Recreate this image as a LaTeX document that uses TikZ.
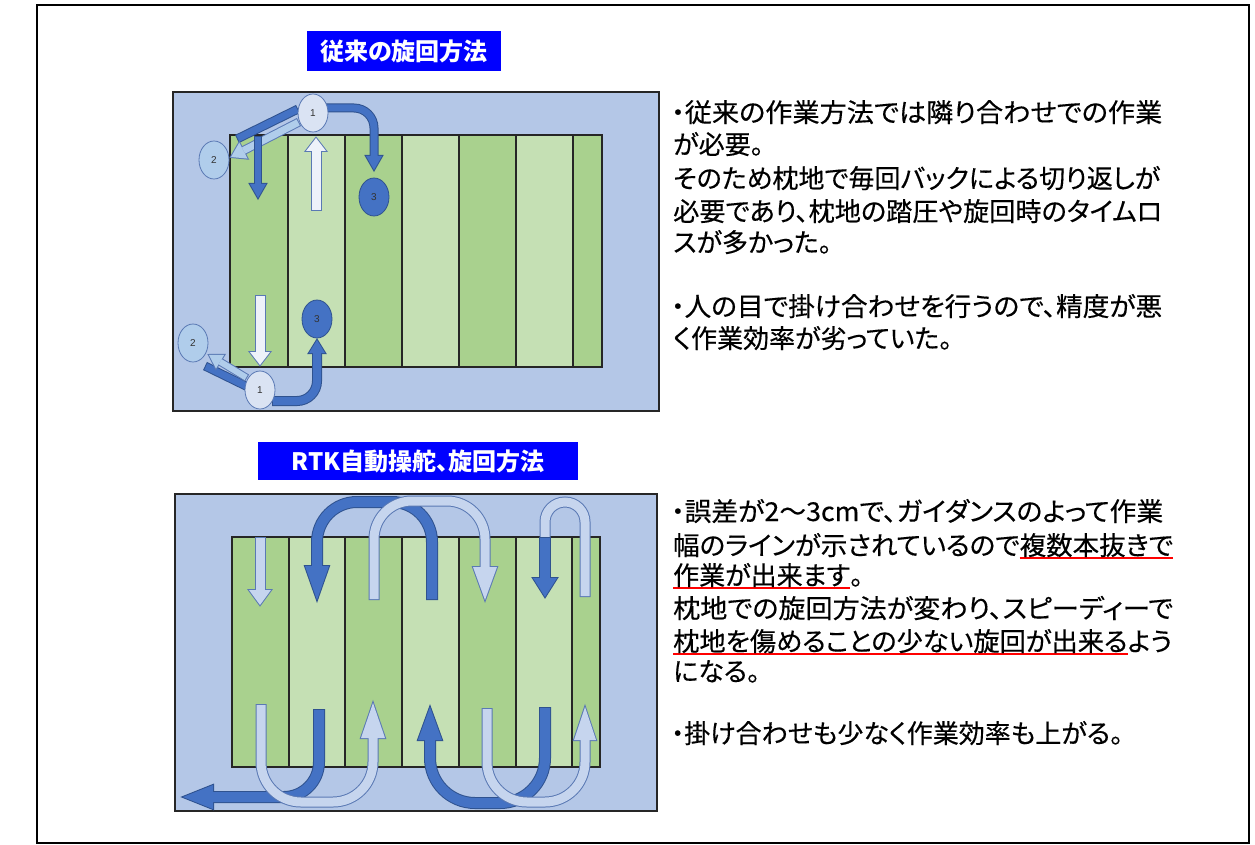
\documentclass[tikz,border=0pt]{standalone}
\usepackage{fontspec}
\usetikzlibrary{calc,shapes.geometric}
\setsansfont{Liberation Sans}
\newfontfamily\jp{Noto Sans CJK JP}[RawFeature=+palt]
\newfontfamily\jpt{Noto Sans CJK JP}[RawFeature=+palt,FakeBold=0.35]
\definecolor{bgb}{HTML}{B4C7E7}
\definecolor{dg}{HTML}{A9D18E}
\definecolor{lg}{HTML}{C5E0B4}
\definecolor{db}{HTML}{4472C4}
\definecolor{dbo}{HTML}{2F528F}
\definecolor{lbf}{HTML}{C6D5EE}
\definecolor{lbo}{HTML}{5A79B4}
\definecolor{wf}{HTML}{EEF2FA}
\definecolor{cone}{HTML}{DAE3F3}
\definecolor{ctwo}{HTML}{B0CDEB}
\definecolor{ttl}{HTML}{0000FF}
\def\bo{1}
\newcommand{\barrow}[7]{%
  \coordinate (bB) at #5; \coordinate (bT) at #6;
  \coordinate (bL) at ($(bB)!#7pt!90:(bT)$);
  \coordinate (bR) at ($(bB)!#7pt!-90:(bT)$);
  \pgfmathsetmacro\bw{#3+2*\bo}
  \pgfmathsetmacro\bt{2*\bo}
  \draw[line width=\bw pt, draw=#2] #4;
  \filldraw[line width=\bt pt, draw=#2, fill=#2] (bL)--(bT)--(bR)--cycle;
  \draw[line width=#3pt, draw=#1, shorten <=\bo pt] #4;
  \fill[fill=#1] (bL)--(bT)--(bR)--cycle;
}
\newcommand{\bband}[4]{%
  \pgfmathsetmacro\bw{#3+2*\bo}
  \draw[line width=\bw pt, draw=#2] #4;
  \draw[line width=#3pt, draw=#1, shorten <=\bo pt, shorten >=\bo pt] #4;
}
\newsavebox\rulbox
\newcommand{\rul}[1]{\sbox\rulbox{#1}\rlap{\textcolor{red}{\rule[-4pt]{\wd\rulbox}{2pt}}}\usebox\rulbox}
\newcommand{\fitw}[2]{\resizebox{#1}{\height}{#2}}
\begin{document}
\begin{tikzpicture}[x=1pt,y=-1pt,
  ttlbox/.style={fill=ttl, inner sep=0, text=white, font=\jp\bfseries\fontsize{24}{24}\selectfont},
  jtext/.style={anchor=base west, inner sep=0, font=\jpt\fontsize{26}{26}\selectfont},
  circbase/.style={ellipse, minimum width=30pt, minimum height=38pt, inner sep=0, line width=0.8pt, font=\sffamily\fontsize{10}{10}\selectfont, text=black!80},
  cA/.style={circbase, draw=lbo, fill=cone},
  cB/.style={circbase, draw=lbo, fill=ctwo},
  cC/.style={circbase, draw=dbo, fill=db},
  outerbox/.style={fill=bgb, draw=black!85, line width=1.6pt},
  strip/.style={draw=black!85, line width=1.1pt}]
\useasboundingbox (0,0) rectangle (1255,845);
\draw[line width=1.2pt] (37,5) rectangle (1249,843);

% ---------- top diagram ----------
\node[ttlbox, minimum width=194pt, minimum height=40pt] (title1) at (404,51) {従来の旋回方法};
\draw[outerbox] (173,92) rectangle (659,411);
\foreach \a/\b/\c in {230/288/dg, 288/345/lg, 345/402/dg, 402/459/lg, 459/516/dg, 516/573/lg, 573/602/dg}
  \draw[strip, fill=\c] (\a,135) rectangle (\b,367);

\bband{db}{dbo}{7}{(298,109) -- (237,139)}
\barrow{ctwo}{lbo}{7}{(299,122) -- (243.4,150.6)}{(243.4,150.6)}{(231,157)}{9}
\barrow{db}{dbo}{6}{(258,136) -- (258,184)}{(258,184)}{(258,198)}{8}
\barrow{wf}{lbo}{9}{(316,211) -- (316,151)}{(316,151)}{(316,138)}{10}
\barrow{db}{dbo}{7}{(325,108) [rounded corners=20pt] -- (374,108) -- (374,156)}{(374,156)}{(374,170)}{8}

\barrow{wf}{lbo}{9}{(260,295) -- (260,352)}{(260,352)}{(260,365)}{10}
\bband{db}{dbo}{7}{(248,387) -- (205,366)}
\barrow{ctwo}{lbo}{6}{(247,378) -- (220.1,361.7)}{(220.1,361.7)}{(209,355)}{8}
\barrow{db}{dbo}{8}{(272,401) [rounded corners=20pt] -- (317,401) -- (317,353)}{(317,353)}{(317,340)}{8}

\node[cA] (ta1) at (313,113) {1};
\node[cB] (ta2) at (214,160) {2};
\node[cC] (ta3) at (374,197) {3};
\node[cA] (tb1) at (260,390) {1};
\node[cB] (tb2) at (193,343) {2};
\node[cC] (tb3) at (317,319) {3};

% ---------- bottom diagram ----------
\node[ttlbox, minimum width=320pt, minimum height=38pt] (title2) at (418,461) {RTK自動操舵、旋回方法};
\draw[outerbox] (175,494) rectangle (657,811);
\foreach \a/\b/\c in {232/289/dg, 289/345/lg, 345/402/dg, 402/459/lg, 459/516/dg, 516/572/lg, 572/600/dg}
  \draw[strip, fill=\c] (\a,537) rectangle (\b,767);

\barrow{lbf}{lbo}{9}{(260,537) -- (260,590)}{(260,590)}{(260,605)}{11}
\barrow{db}{dbo}{10}{(432,600) [rounded corners=40pt] -- (432,502) -- (317,502) -- (317,566)}{(317,566)}{(317,600)}{12}
\barrow{lbf}{lbo}{9}{(374,600) [rounded corners=38pt] -- (374,501) -- (485,501) -- (485,567)}{(485,567)}{(485,600)}{12}
\bband{lbf}{lbo}{9}{(585,597) [rounded corners=20pt] -- (585,502) -- (545,502) -- (545,538)}
\barrow{db}{dbo}{10}{(545,537) -- (545,578)}{(545,578)}{(545,597)}{12}

\barrow{db}{dbo}{10}{(319,709) [rounded corners=35pt] -- (319,797) -- (213,797)}{(213,797)}{(183,797)}{12}
\barrow{lbf}{lbo}{9}{(261,704) [rounded corners=40pt] -- (261,802) -- (373,802) -- (373,738)}{(373,738)}{(373,703)}{12}
\barrow{db}{dbo}{10}{(545,707) [rounded corners=45pt] -- (545,803) -- (430,803) -- (430,740)}{(430,740)}{(430,707)}{12}
\barrow{lbf}{lbo}{9}{(487,708) [rounded corners=40pt] -- (487,802) -- (585,802) -- (585,740)}{(585,740)}{(585,707)}{11}

% ---------- texts ----------
\node[jtext] (a1) at (671,122) {\fitw{491pt}{・従来の作業方法では隣り合わせでの作業}};
\node[jtext] (a2) at (673,154) {が必要。};
\node[jtext] (a3) at (673,188) {\fitw{487pt}{そのため枕地で毎回バックによる切り返しが}};
\node[jtext] (a4) at (673,221) {\fitw{489pt}{必要であり、枕地の踏圧や旋回時のタイムロ}};
\node[jtext] (a5) at (673,252) {スが多かった。};
\node[jtext] (a6) at (671,316) {\fitw{491pt}{・人の目で掛け合わせを行うので、精度が悪}};
\node[jtext] (a7) at (673,348) {く作業効率が劣っていた。};

\node[jtext] (b1) at (671,521) {\fitw{492pt}{・誤差が2〜3cmで、ガイダンスのよって作業}};
\node[jtext] (b2) at (673,555) {\fitw{500pt}{幅のラインが示されているので\rul{複数本抜きで}}};
\node[jtext] (b3) at (673,585) {\rul{作業が出来ます}。};
\node[jtext] (b4) at (673,618) {\fitw{500pt}{枕地での旋回方法が変わり、スピーディーで}};
\node[jtext] (b5) at (673,651) {\fitw{499pt}{\rul{枕地を傷めることの少ない旋回が出来る}よう}};
\node[jtext] (b6) at (673,681) {になる。};
\node[jtext] (b7) at (671,743) {・掛け合わせも少なく作業効率も上がる。};
\end{tikzpicture}
\end{document}
